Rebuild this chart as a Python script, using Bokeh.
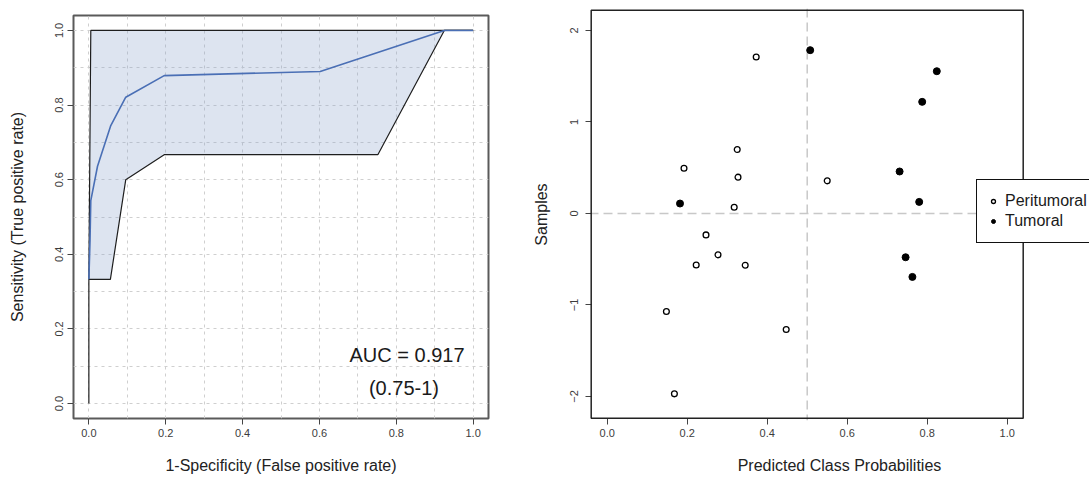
from bokeh.plotting import figure
from bokeh.layouts import row, column
from bokeh.models import Range1d, FixedTicker, PrintfTickFormatter, Span, Label, BoxAnnotation
from bokeh.embed import file_html
from bokeh.resources import INLINE

FONT = "Liberation Sans"

# ---------------- data: ROC panel ----------------
roc_fpr = [0.0, 0.003, 0.005, 0.0225, 0.057, 0.096, 0.196, 0.602, 0.925, 1.0]
roc_tpr = [0.333, 0.437, 0.544, 0.636, 0.745, 0.821, 0.879, 0.890, 1.0, 1.0]
ci_upper_fpr = [0.0, 0.005, 1.0]
ci_upper_tpr = [0.333, 1.0, 1.0]
ci_lower_fpr = [0.0, 0.0, 0.056, 0.096, 0.196, 0.752, 0.925, 1.0]
ci_lower_tpr = [0.0, 0.333, 0.333, 0.600, 0.667, 0.667, 1.0, 1.0]
auc_value = "0.917"
auc_ci_low = "0.75"
auc_ci_high = "1"
roc_ticks = [0.0, 0.2, 0.4, 0.6, 0.8, 1.0]
roc_grid = [0.0, 0.1, 0.2, 0.3, 0.4, 0.5, 0.6, 0.7, 0.8, 0.9, 1.0]

# ---------------- data: probability panel ----------------
peri_prob = [0.3725, 0.325, 0.327, 0.192, 0.3175, 0.247, 0.2225, 0.277, 0.345, 0.148, 0.4475, 0.168, 0.550]
peri_y = [1.711, 0.699, 0.397, 0.495, 0.069, -0.234, -0.562, -0.452, -0.565, -1.071, -1.268, -1.971, 0.357]
tum_prob = [0.5075, 0.182, 0.824, 0.7875, 0.731, 0.780, 0.746, 0.763]
tum_y = [1.785, 0.109, 1.555, 1.220, 0.459, 0.127, -0.478, -0.693]
prob_ticks = [0.0, 0.2, 0.4, 0.6, 0.8, 1.0]
sample_ticks = [-2, -1, 0, 1, 2]
threshold_prob = 0.5
threshold_y = 0

# plotting box (R-style padded limits) of the right panel
box_x = (-0.04, 1.04)
box_y = (-2.2372, 2.2219)


def style_axes(p, tick_in=0, tick_out=6):
    p.title.visible = False
    for ax in (p.xaxis[0], p.yaxis[0]):
        ax.axis_line_color = None
        ax.major_tick_in = tick_in
        ax.major_tick_out = tick_out
        ax.minor_tick_line_color = None
        ax.major_tick_line_color = "#444444"
        ax.major_label_text_font = FONT
        ax.major_label_text_font_size = "11px"
        ax.major_label_text_color = "#3c3c3c"
        ax.axis_label_text_font = FONT
        ax.axis_label_text_font_size = "16px"
        ax.axis_label_text_font_style = "normal"
        ax.axis_label_text_color = "#222222"
    p.yaxis[0].major_label_orientation = "vertical"
    p.background_fill_color = "white"
    p.border_fill_color = "white"


# ---------------- left: ROC ----------------
p1 = figure(width=520, height=477, x_range=Range1d(-0.04, 1.04), y_range=Range1d(-0.04, 1.04),
            output_backend="svg", toolbar_location=None,
            min_border_left=73, min_border_right=32, min_border_top=15, min_border_bottom=59)
style_axes(p1)
p1.xaxis[0].ticker = FixedTicker(ticks=roc_ticks)
p1.yaxis[0].ticker = FixedTicker(ticks=roc_ticks)
p1.xaxis[0].formatter = PrintfTickFormatter(format="%.1f")
p1.yaxis[0].formatter = PrintfTickFormatter(format="%.1f")
p1.xaxis[0].axis_label = "1-Specificity (False positive rate)"
p1.yaxis[0].axis_label = "Sensitivity (True positive rate)"
p1.xaxis[0].major_label_standoff = 4
p1.xaxis[0].axis_label_standoff = 17
p1.yaxis[0].major_label_standoff = 4
p1.yaxis[0].axis_label_standoff = 27
p1.xgrid.ticker = FixedTicker(ticks=roc_grid)
p1.ygrid.ticker = FixedTicker(ticks=roc_grid)
for g in (p1.xgrid[0], p1.ygrid[0]):
    g.grid_line_color = "#cfcfcf"
    g.grid_line_dash = "3 4"
    g.grid_line_width = 1
p1.outline_line_color = "#5a5a5a"
p1.outline_line_width = 2

poly_x = ci_upper_fpr + ci_lower_fpr[::-1]
poly_y = ci_upper_tpr + ci_lower_tpr[::-1]
p1.patch(poly_x, poly_y, fill_color="#8ea5cd", fill_alpha=0.3, line_color=None)
p1.line(ci_upper_fpr, ci_upper_tpr, line_color="#1e1e1e", line_width=1.2)
p1.line(ci_lower_fpr, ci_lower_tpr, line_color="#1e1e1e", line_width=1.2)
p1.line(roc_fpr, roc_tpr, line_color="#4a6fb5", line_width=1.6)

p1.add_layout(Label(x=0.828, y=0.129, text=f"AUC = {auc_value}", text_align="center",
                    text_baseline="middle", text_font=FONT, text_font_size="20px",
                    text_color="#1a1a1a"))
p1.add_layout(Label(x=0.82, y=0.043, text=f"({auc_ci_low}-{auc_ci_high})", text_align="center",
                    text_baseline="middle", text_font=FONT, text_font_size="20px",
                    text_color="#1a1a1a"))

# ---------------- right: probabilities ----------------
# frame runs to the right canvas edge so the legend (which overhangs the box) is not clipped
p2 = figure(width=569, height=477, x_range=Range1d(-0.04425, 1.20575), y_range=Range1d(-2.2623, 2.2404),
            output_backend="svg", toolbar_location=None,
            min_border_left=69, min_border_right=0, min_border_top=8, min_border_bottom=57)
style_axes(p2, tick_in=2, tick_out=4)
p2.xaxis[0].ticker = FixedTicker(ticks=prob_ticks)
p2.yaxis[0].ticker = FixedTicker(ticks=sample_ticks)
p2.xaxis[0].formatter = PrintfTickFormatter(format="%.1f")
p2.xaxis[0].axis_label = "Predicted Class Probabilities"
p2.yaxis[0].axis_label = "Samples"
p2.xaxis[0].major_label_standoff = 4
p2.xaxis[0].axis_label_standoff = 17
p2.yaxis[0].major_label_standoff = 7
p2.yaxis[0].axis_label_standoff = 18
p2.xgrid.visible = False
p2.ygrid.visible = False
p2.outline_line_color = None

p2.add_layout(Span(location=threshold_prob, dimension="height", line_color="#c8c8c8",
                   line_dash="9 5", line_width=1.5, level="underlay"))
p2.add_layout(Span(location=threshold_y, dimension="width", line_color="#c8c8c8",
                   line_dash="9 5", line_width=1.5, level="underlay"))
p2.add_layout(BoxAnnotation(left=box_x[0], right=box_x[1], bottom=box_y[0], top=box_y[1],
                            fill_color=None, fill_alpha=0, line_color="#222222",
                            line_alpha=1, line_width=1.5))

p2.scatter(peri_prob, peri_y, marker="circle", size=5.8, fill_color="white",
           line_color="black", line_width=1.3, legend_label="Peritumoral")
p2.scatter(tum_prob, tum_y, marker="circle", size=7, fill_color="black",
           line_color="black", line_width=1, legend_label="Tumoral")

lg = p2.legend[0]
lg.location = (387, 177)
lg.border_line_color = "#111111"
lg.border_line_alpha = 1
lg.border_line_width = 1.2
lg.background_fill_color = "white"
lg.background_fill_alpha = 1
lg.label_text_font = FONT
lg.label_text_font_size = "16px"
lg.label_text_color = "#1a1a1a"
lg.padding = 11
lg.spacing = 0
lg.margin = 0
lg.label_height = 20
lg.glyph_height = 20
lg.glyph_width = 10
lg.label_standoff = 7

# nest each figure in its own column so the row does not align their frames
layout = row(column(p1), column(p2))
open("out.html", "w").write(file_html(layout, INLINE))
